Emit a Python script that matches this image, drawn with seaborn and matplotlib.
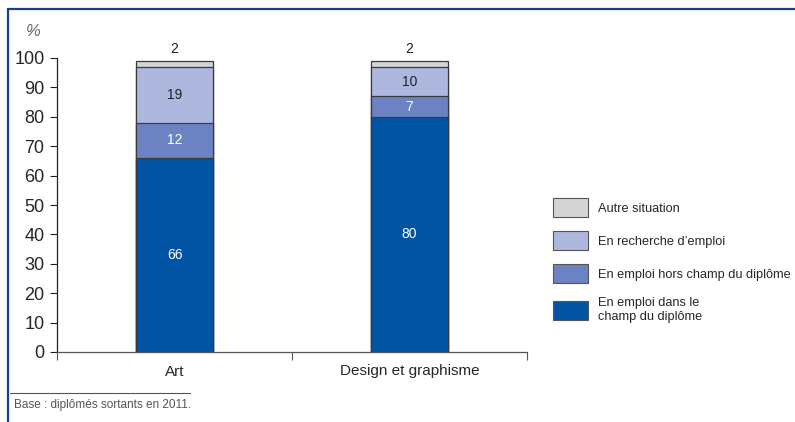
import pandas as pd
import seaborn as sns
import matplotlib.pyplot as plt
from matplotlib.lines import Line2D
from matplotlib.patches import Patch

categories = ["Art", "Design et graphisme"]
series = ["En emploi dans le\nchamp du diplôme", "En emploi hors champ du diplôme",
          "En recherche d'emploi", "Autre situation"]
legend_labels = ["En emploi dans le\nchamp du diplôme", "En emploi hors champ du diplôme",
                 "En recherche d\u2019emploi", "Autre situation"]
dans_champ = [66, 80]
hors_champ = [12, 7]
recherche = [19, 10]
autre = [2, 2]
colors = ["#0154a4", "#6b83c3", "#aeb8de", "#d4d4d4"]
label_colors = ["white", "white", "#222222", "#222222"]

sns.set_theme(style="white")
plt.rcParams['font.family'] = ['Liberation Sans', 'DejaVu Sans']

values = [dans_champ, hors_champ, recherche, autre]
rows = []
for s, v in zip(series, values):
    for c, x in zip(categories, v):
        rows.append([c, s, x])
df = pd.DataFrame(rows, columns=["categorie", "situation", "valeur"])
df["cumul"] = df.groupby("categorie")["valeur"].cumsum()

fig = plt.figure(figsize=(7.95, 4.22), dpi=100)
ax = fig.add_axes([57/795, 1-352/422, (527-57)/795, (352-58)/422])

# draw from top of stack down so lower segments overlay
for s, col in reversed(list(zip(series, colors))):
    sub = df[df["situation"] == s]
    sns.barplot(data=sub, x="categorie", y="cumul", order=categories, color=col,
                width=0.33, edgecolor="#3a3a3a", linewidth=0.9, ax=ax, saturation=1)

for s, lc in zip(series, label_colors):
    sub = df[df["situation"] == s]
    for i, c in enumerate(categories):
        r = sub[sub["categorie"] == c].iloc[0]
        if s == "Autre situation":
            ax.text(i, r["cumul"] + 1.8, str(r["valeur"]), ha="center", va="bottom",
                    fontsize=10, color="#222222", clip_on=False)
        else:
            ax.text(i, r["cumul"] - r["valeur"] / 2, str(r["valeur"]), ha="center",
                    va="center", fontsize=10, color=lc)

ax.set_xlim(-0.5, 1.5)
ax.set_ylim(0, 100)
ax.set_yticks(range(0, 101, 10))
ax.tick_params(axis="y", labelsize=13, length=5, width=0.8, direction="out",
               color="#222222", left=True, pad=4)
ax.set_xticks([0, 1])
ax.set_xticklabels(categories, fontsize=11)
ax.set_xticks([-0.5, 0.5, 1.5], minor=True)
ax.tick_params(axis="x", which="major", length=0, pad=9)
ax.tick_params(axis="x", which="minor", length=6, width=0.8, direction="out",
               color="#555555", bottom=True)
ax.set_xlabel("")
ax.set_ylabel("")
for sp in ["top", "right"]:
    ax.spines[sp].set_visible(False)
ax.spines["left"].set_color("#222222")
ax.spines["left"].set_linewidth(0.9)
ax.spines["bottom"].set_color("#555555")
ax.spines["bottom"].set_linewidth(0.9)

fig.text(33/795, 1-32/422, "%", fontsize=12, style="italic", color="#666666",
         ha="center", va="center")

handles = [Patch(facecolor=c, edgecolor="#555555", linewidth=0.8) for c in colors]
leg = fig.legend(handles[::-1], legend_labels[::-1], loc="upper left",
                 bbox_to_anchor=(548/795, 1-193/422), frameon=False, fontsize=9.2,
                 handlelength=2.7, handleheight=1.9, handletextpad=0.8,
                 labelspacing=1.1, borderaxespad=0)

# frame lines and footnote
fig.add_artist(Line2D([8/795, 1], [1-9/422, 1-9/422], color="#1b3f8b", linewidth=1.6))
fig.add_artist(Line2D([8/795, 8/795], [0, 1-9/422], color="#1b3f8b", linewidth=1.6))
fig.add_artist(Line2D([10/795, 190/795], [1-393/422, 1-393/422], color="#555555", linewidth=0.8))
fig.text(14/795, 1-405/422, "Base : diplômés sortants en 2011.", fontsize=8.5,
         color="#555555", ha="left", va="center")

fig.savefig("out.png", dpi=100)
